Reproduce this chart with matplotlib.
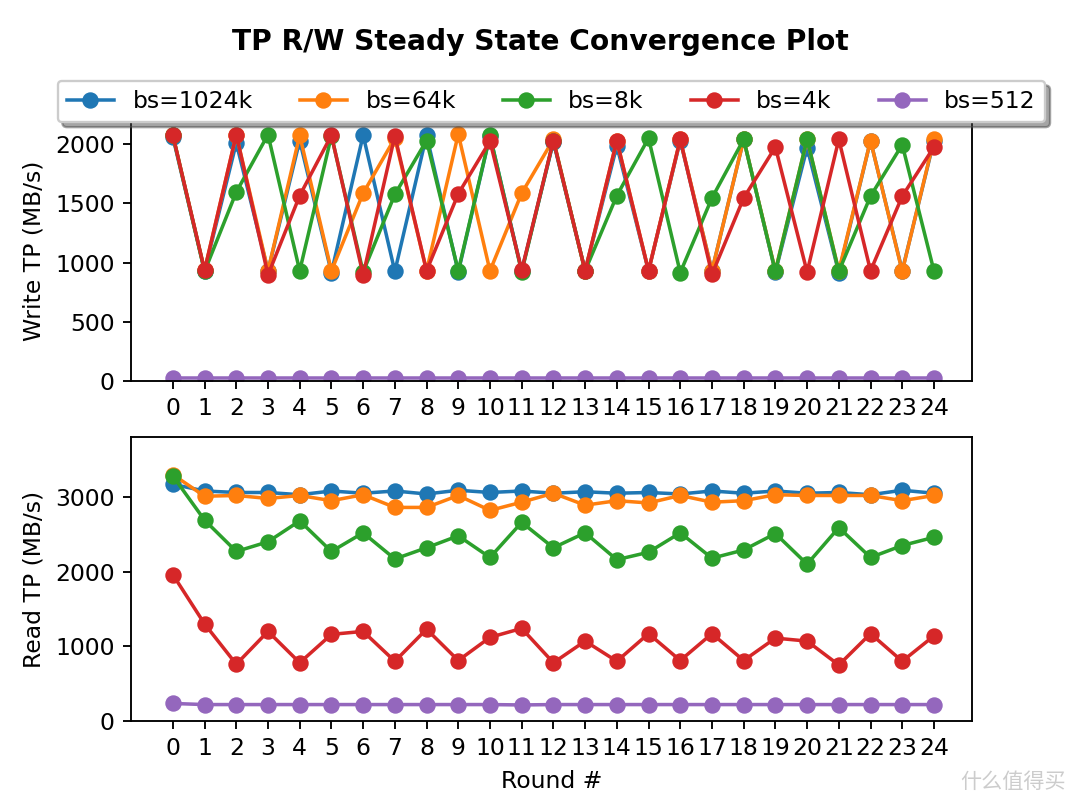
import matplotlib
matplotlib.use("Agg")
import matplotlib.pyplot as plt

rounds = list(range(25))
labels = ["bs=1024k", "bs=64k", "bs=8k", "bs=4k", "bs=512"]

write_1024k = [2060, 930, 2010, 930, 2030, 915, 2075, 925, 2075, 920, 2070, 930, 2020,
               930, 1985, 930, 2030, 930, 2040, 920, 1970, 915, 2030, 930, 2030]
write_64k = [2075, 935, 2080, 930, 2075, 930, 1585, 2050, 930, 2085, 930, 1585, 2040,
             925, 2030, 930, 2040, 930, 2040, 930, 2040, 930, 2030, 925, 2040]
write_8k = [2075, 925, 1595, 2080, 930, 2070, 920, 1575, 2030, 930, 2075, 920, 2030,
            930, 1565, 2050, 915, 1545, 2040, 925, 2045, 925, 1560, 1995, 930]
write_4k = [2075, 935, 2080, 895, 1565, 2075, 895, 2070, 930, 1580, 2025, 935, 2030,
            930, 2030, 930, 2040, 900, 1545, 1975, 920, 2040, 930, 1560, 1975]
write_512 = [25, 25, 25, 25, 25, 25, 25, 25, 25, 25, 25, 25, 25,
             25, 25, 25, 25, 25, 25, 25, 25, 25, 25, 25, 25]

read_1024k = [3170, 3080, 3060, 3060, 3030, 3080, 3050, 3080, 3040, 3090, 3060, 3080, 3050,
              3070, 3050, 3060, 3040, 3080, 3050, 3080, 3050, 3060, 3030, 3090, 3050]
read_64k = [3300, 3010, 3020, 2980, 3020, 2950, 3030, 2860, 2860, 3020, 2820, 2930, 3050,
            2890, 2950, 2920, 3020, 2930, 2950, 3030, 3020, 3020, 3020, 2950, 3020]
read_8k = [3280, 2690, 2270, 2400, 2680, 2270, 2520, 2170, 2320, 2480, 2190, 2660, 2320,
           2520, 2160, 2260, 2520, 2180, 2290, 2510, 2100, 2590, 2190, 2350, 2460]
read_4k = [1960, 1300, 760, 1200, 780, 1160, 1200, 800, 1230, 810, 1120, 1240, 780,
           1070, 800, 1170, 810, 1170, 810, 1110, 1070, 750, 1170, 800, 1140]
read_512 = [235, 220, 220, 220, 220, 220, 220, 220, 220, 220, 220, 215, 220,
            220, 220, 220, 220, 220, 220, 220, 220, 220, 220, 220, 220]

fig = plt.figure(figsize=(6.4, 4.8), dpi=168.75)
ax1 = fig.add_axes([131 / 1080, 1 - 381 / 810, 841 / 1080, 260 / 810])
ax2 = fig.add_axes([131 / 1080, 1 - 721 / 810, 841 / 1080, 284 / 810])

for series, label in zip([write_1024k, write_64k, write_8k, write_4k, write_512], labels):
    ax1.plot(rounds, series, "-o", label=label)
for series, label in zip([read_1024k, read_64k, read_8k, read_4k, read_512], labels):
    ax2.plot(rounds, series, "-o", label=label)

for ax in (ax1, ax2):
    ax.set_xticks(rounds)
    ax.set_xlim(-1.32, 25.2)

ax1.set_ylim(0, 2195)
ax2.set_ylim(0, 3803)
ax1.set_ylabel("Write TP (MB/s)")
ax2.set_ylabel("Read TP (MB/s)")
ax2.set_xlabel("Round #")

fig.suptitle("TP R/W Steady State Convergence Plot", fontweight="bold", y=0.965)
ax1.legend(ncol=5, loc="upper center", bbox_to_anchor=(0.5, 1.2), shadow=True, fancybox=True)

# site watermark
fig.text(1013 / 1080, 1 - 782 / 810, "什么值得买", family=["Noto Sans CJK SC", "DejaVu Sans"],
         fontsize=9, color="#cccccc", ha="center", va="center")

fig.savefig("out.png")
